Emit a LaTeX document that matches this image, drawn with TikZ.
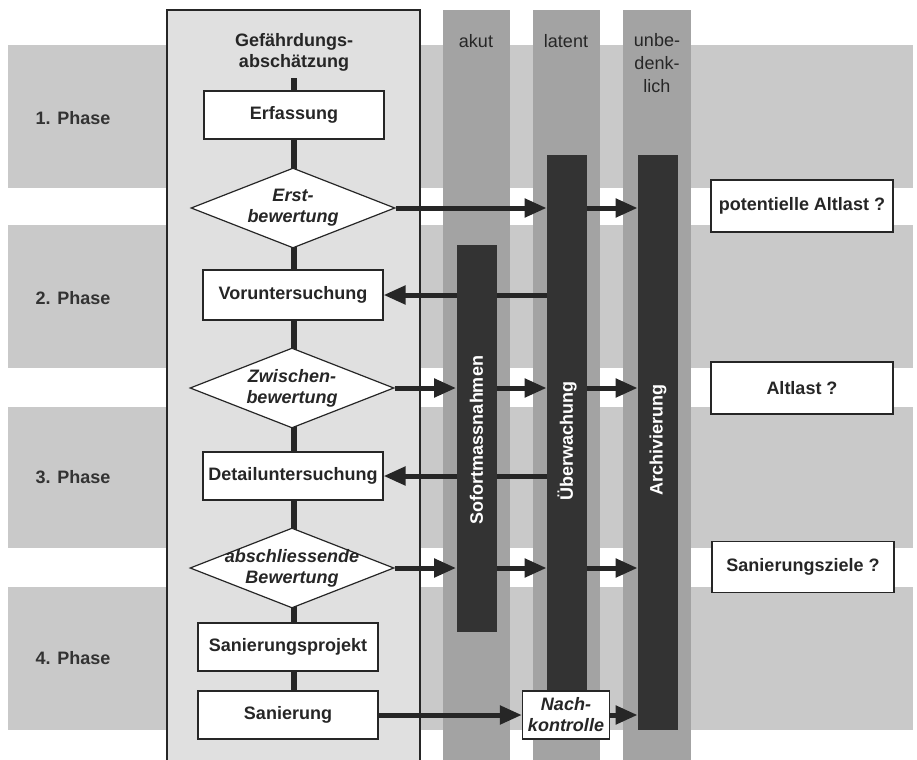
\documentclass[tikz,border=0pt]{standalone}
\usepackage{fontspec}
\setmainfont{Liberation Sans}
\usetikzlibrary{positioning,shapes.geometric,arrows.meta}
\pgfdeclarelayer{back}
\pgfdeclarelayer{mid}
\pgfsetlayers{back,mid,main}
\newcommand\txt{\fontsize{9}{10.5}\selectfont}
\tikzset{
  >={Triangle[length=11pt,width=9pt]},
  band/.style={fill=gray!42},
  column/.style={fill=gray!72},
  frame/.style={draw=black!85,line width=0.6pt},
  flowbox/.style={frame,fill=white,minimum width=90pt,minimum height=24pt,
    inner sep=0pt,font=\txt\bfseries,text=black!85},
  outcome/.style={flowbox,minimum width=91pt,minimum height=26pt},
  decision/.style={frame,diamond,fill=white,minimum width=102pt,
    minimum height=40pt,inner sep=0pt},
  decisiontext/.style={font=\txt\bfseries\itshape,align=center,inner sep=0pt,
    text=black!85},
  bar/.style={fill=black!80,minimum width=20pt,inner sep=0pt},
  bartext/.style={rotate=90,text=white,font=\txt\bfseries,inner sep=0pt},
  phase/.style={font=\txt\bfseries,text=black!80},
  level/.style={font=\txt,align=center,text=black!85,inner sep=0pt},
  link/.style={line width=3pt,draw=black!85},
  flow/.style={->,line width=2.5pt,draw=black!85}
}
\begin{document}
\begin{tikzpicture}[x=0.5pt,y=-0.5pt]
  \useasboundingbox (0,0) rectangle (917,760);

  % phase bands, main column and the three status columns
  \begin{pgfonlayer}{back}
    \foreach \t/\b in {45/188,225/368,407/548,587/730}
      \fill[band] (8,\t) rectangle (913,\b);
    \fill[gray!24] (167,10) rectangle (420,760);
    \draw[frame] (167,760) -- (167,10) -- (420,10) -- (420,760);
    \foreach \l/\r in {443/510,533/600,623/691}
      \fill[column] (\l,10) rectangle (\r,760);
  \end{pgfonlayer}

  % headings
  \node[level,font=\txt\bfseries] (title) at (294,52) {Gefährdungs-\\abschätzung};
  \node[level] (akut) at (476,41) {akut};
  \node[level] (latent) at (566,41) {latent};
  \node[level,font=\fontsize{9}{11.5}\selectfont] (unbed) at (657,63) {unbe-\\denk-\\lich};
  \foreach \n/\y in {1/118,2/298,3/477,4/658}
    \node[phase] (phase\n) at (73,\y) {\n. Phase};
  \coordinate (top) at (294,78);

  % flow of the assessment
  \node[flowbox] (erf) at (294,115) {Erfassung};
  \node[decision] (erst) at (293,208) {};
  \node[decisiontext] (erst-t) at (erst) {Erst-\\bewertung};
  \node[flowbox,minimum height=25pt] (vor) at (293,295) {Voruntersuchung};
  \node[decision] (zw) at (292,388) {};
  \node[decisiontext] (zw-t) at (zw) {Zwischen-\\bewertung};
  \node[flowbox] (det) at (293,476) {Detailuntersuchung};
  \node[decision] (absch) at (292,568) {};
  \node[decisiontext] (absch-t) at (absch) {abschliessende\\Bewertung};
  \node[flowbox] (sprj) at (288,647) {Sanierungsprojekt};
  \node[flowbox] (san) at (288,715) {Sanierung};
  \node[flowbox,minimum width=43.5pt,font=\txt\bfseries\itshape,align=center]
    (nach) at (566,715) {Nach-\\kontrolle};

  % measures
  \node[bar,minimum height=193.5pt] (sofort) at (476.5,438.5) {};
  \node[bar,minimum height=267.5pt] (ueber) at (567,422.5) {};
  \node[bar,minimum height=287.5pt] (archiv) at (658,442.5) {};
  \node[bartext] (sofort-t) at (476.5,440) {Sofortmassnahmen};
  \node[bartext] (ueber-t) at (567,441) {Überwachung};
  \node[bartext] (archiv-t) at (658,440) {Archivierung};

  % questions
  \node[outcome] (pot) at (802,206) {potentielle Altlast ?};
  \node[outcome] (alt) at (802,388) {Altlast ?};
  \node[outcome,minimum height=25.5pt] (ziel) at (803,567) {Sanierungsziele ?};

  % connectors
  \begin{pgfonlayer}{mid}
    \draw[link] (top) -- (top |- san.north);
    \draw[flow] (erst.east) -- (ueber.west |- erst.east);
    \draw[flow] (ueber.east |- erst.east) -- (archiv.west |- erst.east);
    \draw[flow] (ueber.west |- vor.east) -- (vor.east);
    \draw[flow] (zw.east) -- (sofort.west |- zw.east);
    \draw[flow] (sofort.east |- zw.east) -- (ueber.west |- zw.east);
    \draw[flow] (ueber.east |- zw.east) -- (archiv.west |- zw.east);
    \draw[flow] (ueber.west |- det.east) -- (det.east);
    \draw[flow] (absch.east) -- (sofort.west |- absch.east);
    \draw[flow] (sofort.east |- absch.east) -- (ueber.west |- absch.east);
    \draw[flow] (ueber.east |- absch.east) -- (archiv.west |- absch.east);
    \draw[flow] (san.east) -- (nach.west);
    \draw[flow] (nach.east) -- (archiv.west |- nach.east);
  \end{pgfonlayer}
\end{tikzpicture}
\end{document}
